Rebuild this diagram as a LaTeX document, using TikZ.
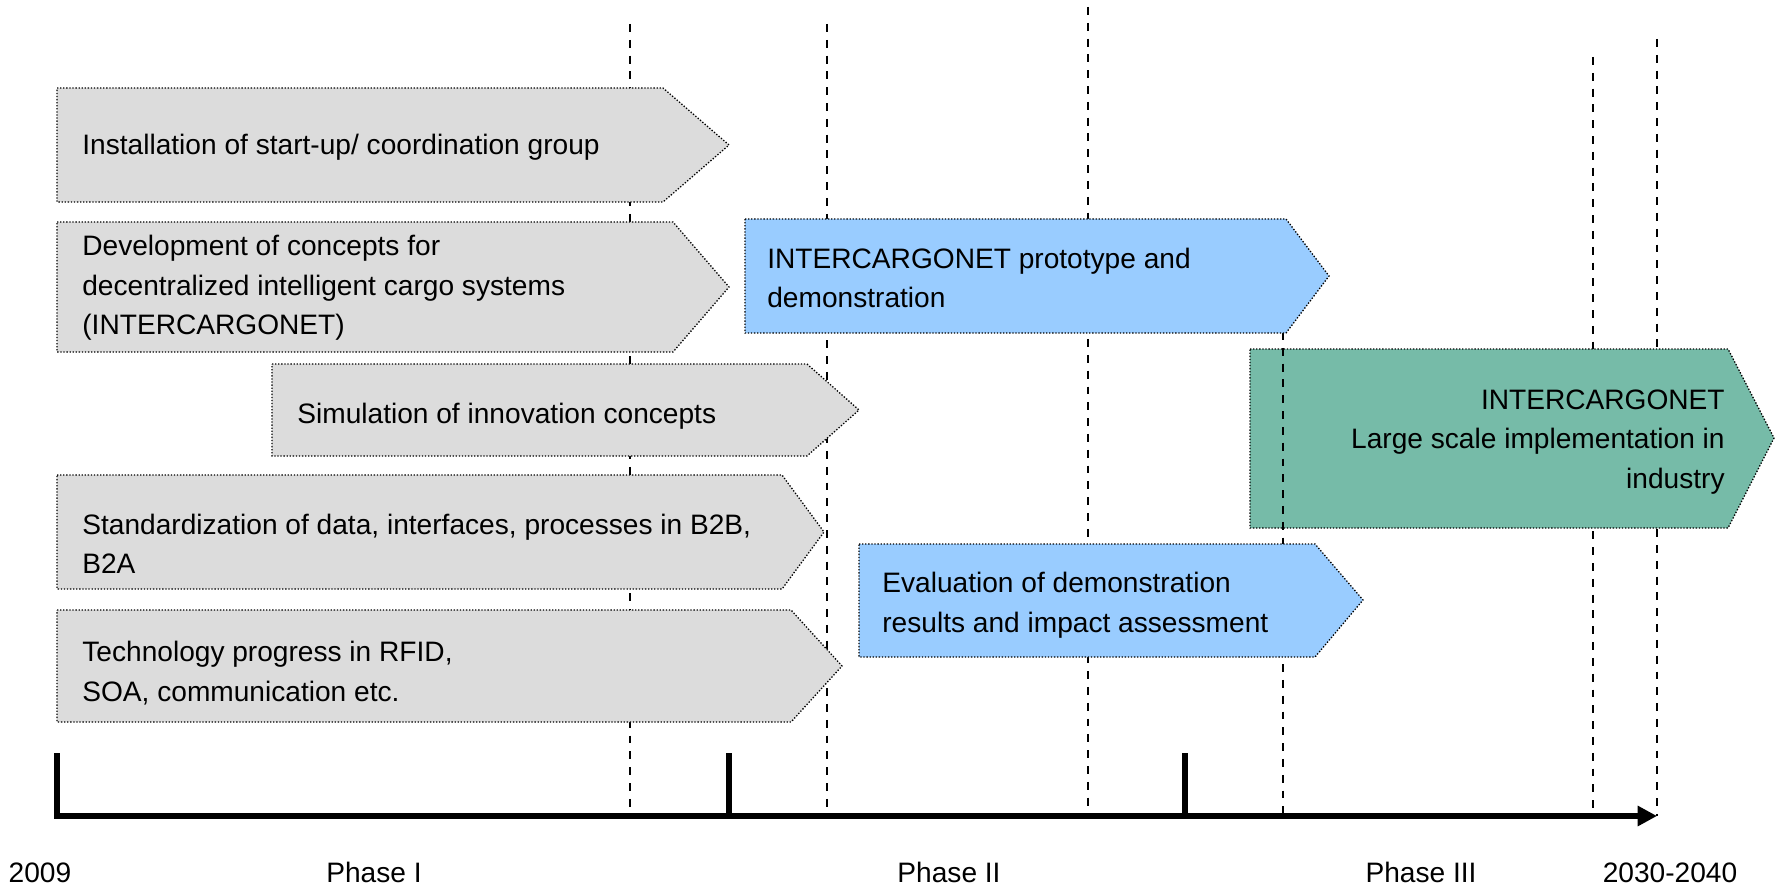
\documentclass[tikz,border=0pt]{standalone}
\usepackage{fontspec}
\setmainfont{Liberation Sans}
\usetikzlibrary{arrows.meta}
\definecolor{boxgray}{RGB}{220,220,220}
\definecolor{boxblue}{RGB}{153,204,255}
\definecolor{boxgreen}{RGB}{118,187,168}
\begin{document}
\begin{tikzpicture}[x=0.02cm,y=-0.02cm]
	\tikzstyle{phasebox} = [draw=black,densely dotted,line width=0.75pt]
	\tikzstyle{boxtext} = [inner sep=0pt,align=left,font=\fontsize{16}{22.5}\selectfont]
	\tikzstyle{guide} = [dash pattern=on 4.5pt off 4.5pt,line width=1pt]
	\tikzstyle{timeline} = [line width=3.3pt]
	
		\useasboundingbox (0,0) rectangle (1777,885);
		
		% vertical guide lines (behind the boxes)
		\draw[guide] (630,24) -- (630,816);
		\draw[guide] (827,24) -- (827,816);
		\draw[guide] (1088,7) -- (1088,816);
		\draw[guide] (1593,57) -- (1593,816);
		\draw[guide] (1657,39) -- (1657,816);
		
		\filldraw[phasebox,fill=boxgreen] (1250,349) -- (1728,349) -- (1774,438) -- (1728,528) -- (1250,528) -- cycle;
		\node[boxtext,align=right,anchor=east] (large) at (1725,442) {INTERCARGONET\\Large scale implementation in\\industry};
		\draw[guide] (1283,332) -- (1283,816);
		
		% grey boxes
		\filldraw[phasebox,fill=boxgray] (57,88) -- (663,88) -- (729,145) -- (663,202) -- (57,202) -- cycle;
		\node[boxtext,anchor=west] (install) at (82,147) {Installation of start-up/ coordination group};
		
		\filldraw[phasebox,fill=boxgray] (57,222) -- (673,222) -- (729,287) -- (673,352) -- (57,352) -- cycle;
		\node[boxtext,anchor=west] (develop) at (82,288) {Development of concepts for\\decentralized intelligent cargo systems\\(INTERCARGONET)};
		
		\filldraw[phasebox,fill=boxgray] (272,364) -- (807,364) -- (859,410) -- (807,456) -- (272,456) -- cycle;
		\node[boxtext,anchor=west] (simul) at (297,416) {Simulation of innovation concepts};
		
		\filldraw[phasebox,fill=boxgray] (57,475) -- (782,475) -- (824,532) -- (782,589) -- (57,589) -- cycle;
		\node[boxtext,anchor=west] (standard) at (82,544) {Standardization of data, interfaces, processes in B2B,\\B2A};
		
		\filldraw[phasebox,fill=boxgray] (57,610) -- (791,610) -- (842,666) -- (791,722) -- (57,722) -- cycle;
		\node[boxtext,anchor=west] (techno) at (82,673) {Technology progress in RFID,\\SOA, communication etc.};
		
		% blue boxes
		\filldraw[phasebox,fill=boxblue] (745,219) -- (1286,219) -- (1329,276) -- (1286,333) -- (745,333) -- cycle;
		\node[boxtext,anchor=west] (proto) at (767,278) {INTERCARGONET prototype and\\demonstration};
		
		\filldraw[phasebox,fill=boxblue] (859,544) -- (1315,544) -- (1363,600) -- (1315,657) -- (859,657) -- cycle;
		\node[boxtext,anchor=west] (eval) at (882,605) {Evaluation of demonstration\\results and impact assessment};
		
		% time axis
		\coordinate (y0) at (57,816);
		\coordinate (t0) at (57,753);
		\coordinate (m1) at (729,816);
		\coordinate (t1) at (729,753);
		\coordinate (m2) at (1185,816);
		\coordinate (t2) at (1185,753);
		\coordinate (yend) at (1657,816);
		\draw[timeline,-{Triangle[length=11pt,width=11pt]}] (t0) -- (y0) -- (yend);
		\draw[timeline] (t1) -- (m1);
		\draw[timeline] (t2) -- (m2);
		
		\node[boxtext,anchor=base] (start) at (40,882) {2009};
		\node[boxtext,anchor=base] (ph1) at (374,882) {Phase I};
		\node[boxtext,anchor=base] (ph2) at (949,882) {Phase II};
		\node[boxtext,anchor=base] (ph3) at (1421,882) {Phase III};
		\node[boxtext,anchor=base] (stop) at (1670,882) {2030-2040};
		
\end{tikzpicture}
\end{document}
